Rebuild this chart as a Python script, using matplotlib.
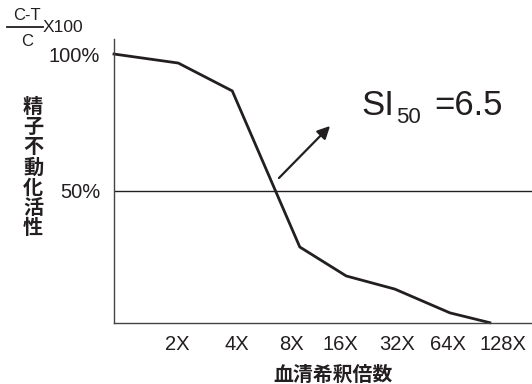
import matplotlib
matplotlib.use("Agg")
import matplotlib.pyplot as plt

plt.rcParams['font.family'] = ['Liberation Sans', 'Noto Sans CJK JP', 'DejaVu Sans']

# Data (x = position along dilution axis, in tick-spacing units; y = % activity)
x_vals = [0, 1.19, 2.19, 3.44, 4.30, 5.20, 6.22, 6.96]
y_vals = [100, 96.7, 86.5, 29.4, 18.8, 14.0, 5.3, 1.7]
tick_pos = [1.17, 2.28, 3.28, 4.20, 5.24, 6.18, 7.20]
tick_labels = ['2X', '4X', '8X', '16X', '32X', '64X', '128X']
ytick_vals = [100, 50]
ytick_labels = ['100%', '50%']
ylabel_text = '精子不動化活性'
xlabel_text = '血清希釈倍数'
si50_value = '6.5'

ink = '#231f20'
fig = plt.figure(figsize=(5.32, 3.84), dpi=100)
ax = fig.add_axes([114/532, 1 - 322.7/384, 1 - 114/532, (322.7 - 39)/384])

ax.plot(x_vals, y_vals, color=ink, lw=2.0, solid_joinstyle='miter', clip_on=False)
ax.axhline(50, color=ink, lw=1.0)

ax.set_xlim(0, 7.74)
ax.set_ylim(1.7, 105.5)
for s in ['top', 'right']:
    ax.spines[s].set_visible(False)
for s in ['left', 'bottom']:
    ax.spines[s].set_color('#444444')
    ax.spines[s].set_linewidth(1.0)

ax.set_xticks(tick_pos)
ax.set_xticklabels(tick_labels, fontsize=14.5, color=ink)
ax.set_yticks(ytick_vals)
ax.set_yticklabels(ytick_labels, fontsize=14.5, color=ink)
ax.tick_params(axis='both', length=0)
ax.tick_params(axis='x', pad=9)
ax.tick_params(axis='y', pad=10)

# Y label stacked vertically
fig.text(33/532, 1 - 167/384, '\n'.join(ylabel_text), ha='center', va='center',
         fontsize=14.5, fontweight='bold', color=ink, linespacing=0.96,
         family=['Noto Sans CJK JP', 'DejaVu Sans'])
# X label
fig.text(333/532, 1 - 374/384, xlabel_text, ha='center', va='center',
         fontsize=14.3, fontweight='bold', color=ink,
         family=['Noto Sans CJK JP', 'DejaVu Sans'])

# Fraction (C-T)/C X100
fig.text(27/532, 1 - 15/384, 'C-T', ha='center', va='center', fontsize=12, color=ink)
fig.text(27/532, 1 - 41/384, 'C', ha='center', va='center', fontsize=12, color=ink)
fig.add_artist(plt.Line2D([7/532, 43/532], [1 - 27/384, 1 - 27/384], color=ink, lw=1.3))
fig.text(43/532, 1 - 27/384, 'X100', ha='left', va='center', fontsize=12.5, color=ink)

# SI50 annotation
fig.text(361/532, 1 - 115/384, 'SI', ha='left', va='baseline', fontsize=25, color=ink)
fig.text(396/532, 1 - 123/384, '50', ha='left', va='baseline', fontsize=16, color=ink)
fig.text(434/532, 1 - 115/384, '=' + si50_value, ha='left', va='baseline', fontsize=25, color=ink)

fig.add_artist(matplotlib.patches.FancyArrowPatch(
    (277/532, 1 - 180/384), (332/532, 1 - 124/384), transform=fig.transFigure,
    arrowstyle='-|>,head_length=5,head_width=2.5', color=ink, lw=1.6, mutation_scale=1.5))

fig.savefig('out.png', dpi=100)
